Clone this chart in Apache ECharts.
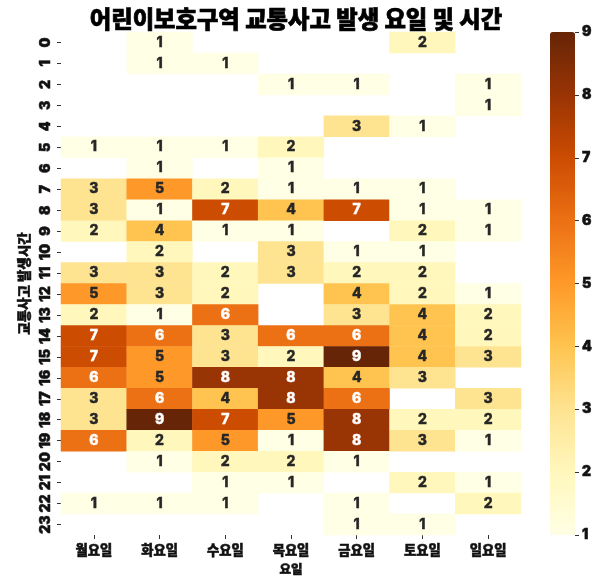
<!DOCTYPE html>
<html>
<head>
<meta charset="utf-8">
<style>html,body{margin:0;padding:0;background:#fff}#c{width:600px;height:585px}</style>
<script src="https://cdn.jsdelivr.net/npm/echarts@6/dist/echarts.min.js"></script>
</head>
<body>
<div id="c"></div>
<script>
const days = ['월요일','화요일','수요일','목요일','금요일','토요일','일요일'];
const hours = ['0','1','2','3','4','5','6','7','8','9','10','11','12','13','14','15','16','17','18','19','20','21','22','23'];
const mon = [null,null,null,null,null,1,null,3,3,2,null,3,5,2,7,7,6,3,3,6,null,null,1,null];
const tue = [1,1,null,null,null,1,1,5,1,4,2,3,3,1,6,5,5,6,9,2,1,null,1,null];
const wed = [null,1,null,null,null,1,null,2,7,1,null,2,2,6,3,3,8,4,7,5,2,1,1,null];
const thu = [null,null,1,null,null,2,1,1,4,1,3,3,null,null,6,2,8,8,5,1,2,1,null,null];
const fri = [null,null,1,null,3,null,null,1,7,null,1,2,4,3,6,9,4,6,8,8,1,null,1,1];
const sat = [2,null,null,null,1,null,null,1,1,2,1,2,2,4,4,4,3,null,2,3,null,2,null,1];
const sun = [null,null,1,1,null,null,null,null,1,1,null,null,1,2,2,3,null,3,2,1,null,1,2,null];
const colorStops = ['#ffffe5','#fff7bc','#fee391','#fec44f','#fe9929','#ec7014','#cc4c02','#993404','#662506'];

const font = 'Inter, "Noto Sans CJK KR", sans-serif';
const hangul = '"Noto Sans CJK KR", sans-serif';
const heavy = {fontWeight:900,color:'#111',textBorderColor:'#111',textBorderWidth:0.5};
const cells = [];
[mon,tue,wed,thu,fri,sat,sun].forEach((col,x)=>col.forEach((v,y)=>{
  if(v!==null) cells.push({value:[x,y,v],label:{color:v>=6?'#ffffff':'#262626',
    textBorderColor:v>=6?'#ffffff':'#262626',textBorderWidth:0.4}});
}));
const chart = echarts.init(document.getElementById('c'),null,{renderer:'canvas'});
chart.setOption({
  animation:false,
  backgroundColor:'#fff',
  title:{text:'어린이보호구역 교통사고 발생 요일 및 시간',left:291,top:3,textAlign:'center',
    textStyle:{fontFamily:hangul,fontWeight:900,fontSize:23.3,color:'#000',textBorderColor:'#000',textBorderWidth:0.7}},
  grid:[
    {left:61,top:32,width:460,height:503,containLabel:false},
    {left:550,top:32,width:25,height:503,containLabel:false}
  ],
  xAxis:[
    {type:'category',gridIndex:0,data:days,name:'요일',nameLocation:'middle',nameGap:28,
     nameTextStyle:{fontFamily:hangul,fontSize:12.5,...heavy},
     axisLine:{show:false},axisTick:{show:true,alignWithLabel:true,length:4,lineStyle:{color:'#333',width:1}},
     axisLabel:{fontFamily:hangul,fontSize:13.3,margin:8,interval:0,...heavy},splitLine:{show:false}},
    {type:'category',gridIndex:1,data:[''],show:false}
  ],
  yAxis:[
    {type:'category',gridIndex:0,data:hours,inverse:true,name:'교통사고 발생시간',nameLocation:'middle',nameGap:30,nameRotate:90,
     nameTextStyle:{fontFamily:hangul,fontSize:13.5,...heavy},
     axisLine:{show:false},axisTick:{show:true,alignWithLabel:true,length:4,lineStyle:{color:'#333',width:1}},
     axisLabel:{fontFamily:font,fontSize:14,rotate:90,margin:8,interval:0,...heavy},splitLine:{show:false}},
    {type:'value',gridIndex:1,position:'right',min:1,max:9,interval:1,
     axisLine:{show:false},axisTick:{show:true,length:4,lineStyle:{color:'#333',width:1}},
     axisLabel:{fontFamily:font,fontSize:14,margin:7,...heavy},splitLine:{show:false}}
  ],
  visualMap:{type:'continuous',min:1,max:9,seriesIndex:0,calculable:false,showLabel:false,text:null,
    left:550,top:32,itemWidth:25,itemHeight:503,padding:0,orient:'vertical',
    inRange:{color:colorStops},textStyle:{fontSize:0}},
  series:[{type:'heatmap',xAxisIndex:0,yAxisIndex:0,data:cells,
    label:{show:true,fontFamily:font,fontWeight:800,fontSize:14,formatter:p=>String(p.value[2])},
    itemStyle:{borderWidth:0},emphasis:{disabled:true}}]
});
</script>
</body>
</html>
